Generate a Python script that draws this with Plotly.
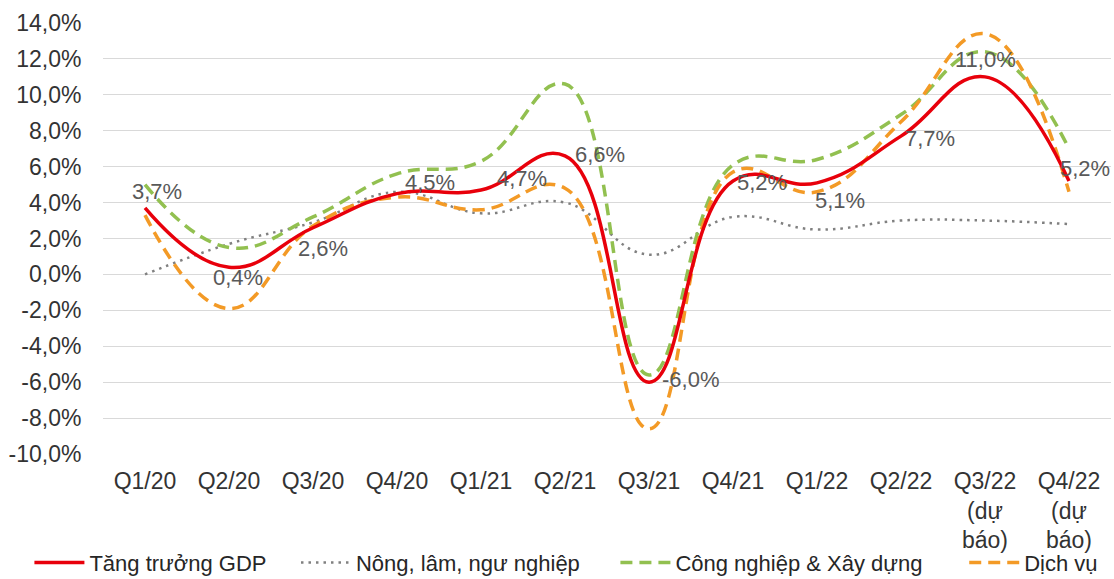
import plotly.graph_objects as go

categories = ["Q1/20", "Q2/20", "Q3/20", "Q4/20", "Q1/21", "Q2/21", "Q3/21",
              "Q4/21", "Q1/22", "Q2/22", "Q3/22<br>(dự<br>báo)", "Q4/22<br>(dự<br>báo)"]
gdp = [3.7, 0.4, 2.6, 4.5, 4.7, 6.6, -6.0, 5.2, 5.1, 7.7, 11.0, 5.2]
nong_lam = [0.0, 1.7, 2.9, 4.6, 3.4, 4.0, 1.1, 3.2, 2.5, 3.0, 3.0, 2.8]
cong_nghiep = [5.0, 1.5, 3.2, 5.6, 6.3, 10.6, -5.6, 6.1, 6.4, 8.9, 12.4, 7.0]
dich_vu = [3.3, -1.9, 2.7, 4.3, 3.6, 4.8, -8.6, 5.7, 4.6, 8.5, 13.4, 4.6]
gdp_labels = ["3,7%", "0,4%", "2,6%", "4,5%", "4,7%", "6,6%", "-6,0%",
              "5,2%", "5,1%", "7,7%", "11,0%", "5,2%"]
y_tick_values = [-10, -8, -6, -4, -2, 0, 2, 4, 6, 8, 10, 12, 14]
y_tick_labels = ["-10,0%", "-8,0%", "-6,0%", "-4,0%", "-2,0%", "0,0%", "2,0%",
                 "4,0%", "6,0%", "8,0%", "10,0%", "12,0%", "14,0%"]

names = ["Tăng trưởng GDP", "Nông, lâm, ngư nghiệp", "Công nghiệp & Xây dựng", "Dịch vụ"]

FONT = "Liberation Sans, Arial, sans-serif"
NB = "\u00a0"

fig = go.Figure()
fig.add_trace(go.Scatter(x=categories, y=nong_lam, name=names[1] + NB * 5, mode="lines", legendrank=2,
                         line=dict(color="#808080", width=2.5, dash="2.5px,5px", shape="spline", smoothing=1.25)))
fig.add_trace(go.Scatter(x=categories, y=cong_nghiep, name=names[2] + NB * 6, mode="lines", legendrank=3,
                         line=dict(color="#92c050", width=3.5, dash="12px,7px", shape="spline", smoothing=1.25)))
fig.add_trace(go.Scatter(x=categories, y=dich_vu, name=names[3], mode="lines", legendrank=4,
                         line=dict(color="#f39a26", width=3.5, dash="12px,7px", shape="spline", smoothing=1.25)))
fig.add_trace(go.Scatter(x=categories, y=gdp, name=names[0] + NB * 4, mode="lines", legendrank=1,
                         line=dict(color="#e8000b", width=3.5, shape="spline", smoothing=1.25)))

label_offsets = [(12, 16), (9, -10), (10, -21), (33, 11), (41, 12), (35, 1),
                 (41, 3), (29, -1), (23, -18), (29, -2), (0, 17), (16, 13)]
for c, v, t, (dx, dy) in zip(categories, gdp, gdp_labels, label_offsets):
    fig.add_annotation(x=c, y=v, text=t, showarrow=False, xshift=dx, yshift=dy,
                       font=dict(family=FONT, size=22, color="#595959"))

fig.update_layout(
    width=1114, height=579,
    margin=dict(l=103, r=3, t=23, b=125, autoexpand=False),
    paper_bgcolor="white", plot_bgcolor="white",
    font=dict(family=FONT, size=23, color="#333333"),
    showlegend=True,
    legend=dict(orientation="h", x=-0.073, xanchor="left", y=-0.252, yanchor="middle",
                bgcolor="rgba(0,0,0,0)",
                font=dict(family=FONT, size=22, color="#262626"),
                traceorder="normal", itemwidth=50),
    xaxis=dict(type="category", range=[-0.5, 11.5], showgrid=False, showline=False,
               zeroline=False, automargin=False,
               ticks="outside", ticklen=6, tickcolor="rgba(0,0,0,0)",
               tickfont=dict(size=23, color="#333333")),
    yaxis=dict(range=[-10, 14], tickmode="array", tickvals=y_tick_values, ticktext=y_tick_labels,
               showgrid=True, gridcolor="#d9d9d9", gridwidth=1.3, zeroline=False,
               showline=False, automargin=False,
               ticks="outside", ticklen=16, tickcolor="rgba(0,0,0,0)",
               tickfont=dict(size=23, color="#333333")),
)

fig.write_html("out.html", config={"displayModeBar": False},
               post_script="document.body.style.margin='0';")
